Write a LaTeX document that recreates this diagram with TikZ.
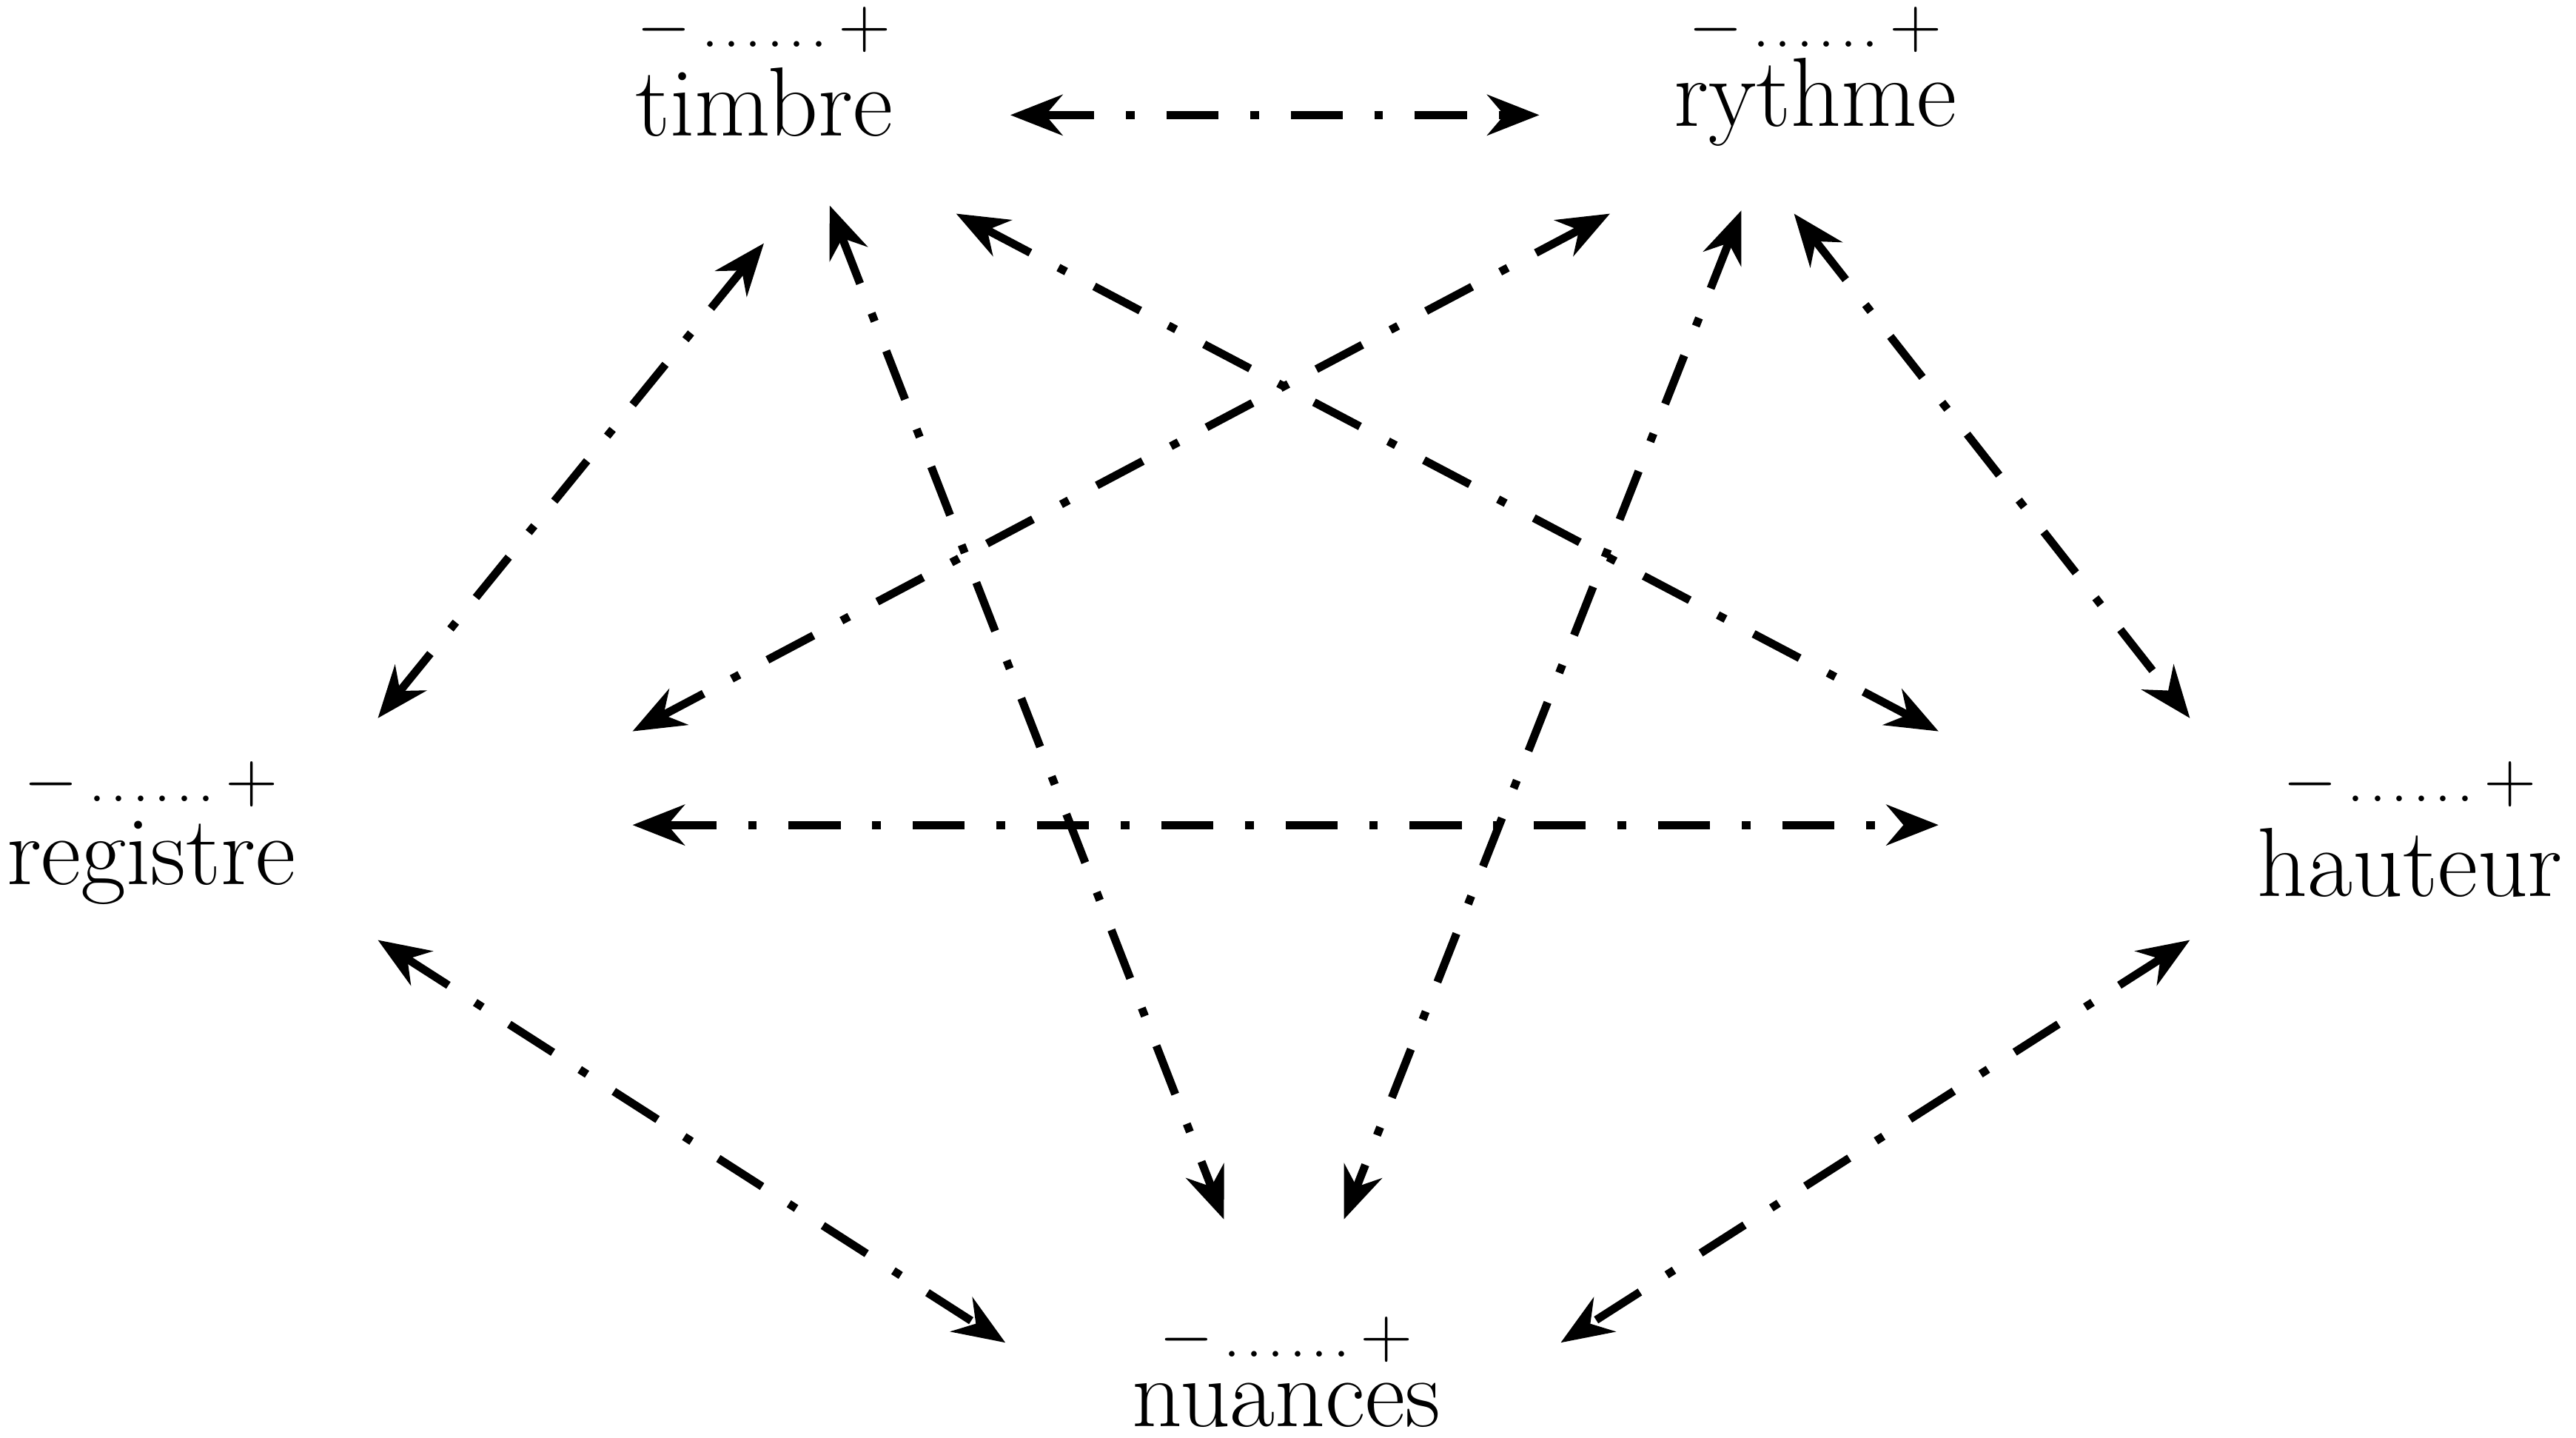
\documentclass[tikz,border=0pt]{standalone}
\usetikzlibrary{arrows.meta}
\begin{document}
\begin{tikzpicture}[x=0.01cm,y=-0.01cm,
  lab/.style={inner sep=0pt,font=\fontsize{17}{20}\selectfont},
  sc/.style={inner sep=0pt,font=\fontsize{12}{13}\selectfont},
  rel/.style={line width=1.4pt,dash pattern=on 9pt off 5.5pt on 1.5pt off 5.5pt,{Stealth[length=9pt,width=7pt]}-{Stealth[length=9pt,width=7pt]}}]
\useasboundingbox (0,0) rectangle (1568,875);
\newcommand{\scl}{$-$\,{\fontsize{9}{9}\selectfont.\kern1.2pt.\kern1.2pt.\kern1.2pt.\kern1.2pt.\kern1.2pt.}\,$+$}
\node[lab] (ti) at (465,62) {timbre};
\node[sc] (tis) at (465,18) {\scl};
\node[lab] (ry) at (1105,62) {rythme};
\node[sc] (rys) at (1105,18) {\scl};
\node[lab] (re) at (92,525) {registre};
\node[sc] (res) at (92,477) {\scl};
\node[lab] (ha) at (1467,525) {hauteur};
\node[sc] (has) at (1467,477) {\scl};
\node[lab] (nu) at (783,855) {nuances};
\node[sc] (nus) at (783,815) {\scl};
\coordinate (a1) at (615,70); \coordinate (a2) at (937,70);
\coordinate (b1) at (465,148); \coordinate (b2) at (230,437);
\coordinate (c1) at (505,125); \coordinate (c2) at (745,742);
\coordinate (d1) at (582,130); \coordinate (d2) at (1180,445);
\coordinate (e1) at (980,130); \coordinate (e2) at (385,445);
\coordinate (f1) at (1060,128); \coordinate (f2) at (818,742);
\coordinate (g1) at (1092,130); \coordinate (g2) at (1333,437);
\coordinate (h1) at (385,502); \coordinate (h2) at (1180,502);
\coordinate (i1) at (230,572); \coordinate (i2) at (612,817);
\coordinate (j1) at (1333,572); \coordinate (j2) at (950,817);
\foreach \p in {a,b,c,d,e,f,g,h,i,j}{\draw[rel] (\p1) -- (\p2);}
\end{tikzpicture}
\end{document}
